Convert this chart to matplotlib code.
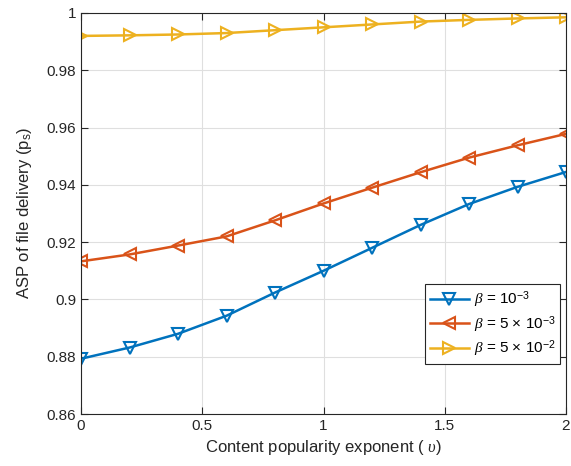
import numpy as np
import matplotlib
matplotlib.use('Agg')
import matplotlib.pyplot as plt

plt.rcParams['font.family'] = ['Liberation Sans', 'DejaVu Sans']
plt.rcParams['mathtext.fontset'] = 'custom'
plt.rcParams['mathtext.rm'] = 'Liberation Sans'
plt.rcParams['mathtext.it'] = 'Liberation Serif:italic'

# Data
upsilon = [0, 0.2, 0.4, 0.6, 0.8, 1.0, 1.2, 1.4, 1.6, 1.8, 2.0]
asp_b1e3 = [0.8793, 0.8832, 0.8880, 0.8943, 0.9024, 0.9100, 0.9180, 0.9260, 0.9333, 0.9393, 0.9445]
asp_b5e3 = [0.9133, 0.9157, 0.9188, 0.9220, 0.9276, 0.9335, 0.9390, 0.9444, 0.9495, 0.9538, 0.9578]
asp_b5e2 = [0.9920, 0.9922, 0.9925, 0.9930, 0.9940, 0.9950, 0.9960, 0.9970, 0.9976, 0.9981, 0.9985]
labels = [r'$\it{\beta}$ = 10$^{-3}$',
          r'$\it{\beta}$ = 5 $\times$ 10$^{-3}$',
          r'$\it{\beta}$ = 5 $\times$ 10$^{-2}$']

fig = plt.figure(figsize=(5.71, 4.66), dpi=100)
ax = fig.add_axes([81 / 571, 1 - 414 / 466, 485 / 571, 401 / 466])

ax.plot(upsilon, asp_b1e3, color='#0072BD', marker='v', markersize=8.5, markerfacecolor='none',
        markeredgewidth=1.5, linewidth=1.8, label=labels[0])
ax.plot(upsilon, asp_b5e3, color='#D95319', marker='<', markersize=8.5, markerfacecolor='none',
        markeredgewidth=1.5, linewidth=1.8, label=labels[1])
ax.plot(upsilon, asp_b5e2, color='#EDB120', marker='>', markersize=8.5, markerfacecolor='none',
        markeredgewidth=1.5, linewidth=1.8, label=labels[2])

ax.set_xlim(0, 2)
ax.set_ylim(0.86, 1.0)
ax.set_xticks([0, 0.5, 1, 1.5, 2])
ax.set_xticklabels(['0', '0.5', '1', '1.5', '2'])
ax.set_yticks(np.arange(0.86, 1.001, 0.02))
ax.set_yticklabels(['0.86', '0.88', '0.9', '0.92', '0.94', '0.96', '0.98', '1'])
ax.tick_params(direction='in', top=True, right=True, labelsize=11, length=5, colors='#262626')
ax.grid(True, color='#dfdfdf', linewidth=0.8)
ax.set_axisbelow(True)
for s in ax.spines.values():
    s.set_color('#262626')
    s.set_linewidth(0.8)

ax.set_xlabel(r'Content popularity exponent ( $\it{\upsilon}$)', fontsize=12, color='#262626')
ax.set_ylabel(r'ASP of file delivery (p$_\mathrm{s}$)', fontsize=12, color='#262626', labelpad=9)

leg = ax.legend(loc='lower right', bbox_to_anchor=(0.988, 0.125), borderaxespad=0, fontsize=11,
                fancybox=False, edgecolor='#262626', framealpha=1, handlelength=2.6, borderpad=0.3,
                labelspacing=0.25, handletextpad=0.3)
leg.get_frame().set_linewidth(0.8)

fig.savefig('out.png', dpi=100)
